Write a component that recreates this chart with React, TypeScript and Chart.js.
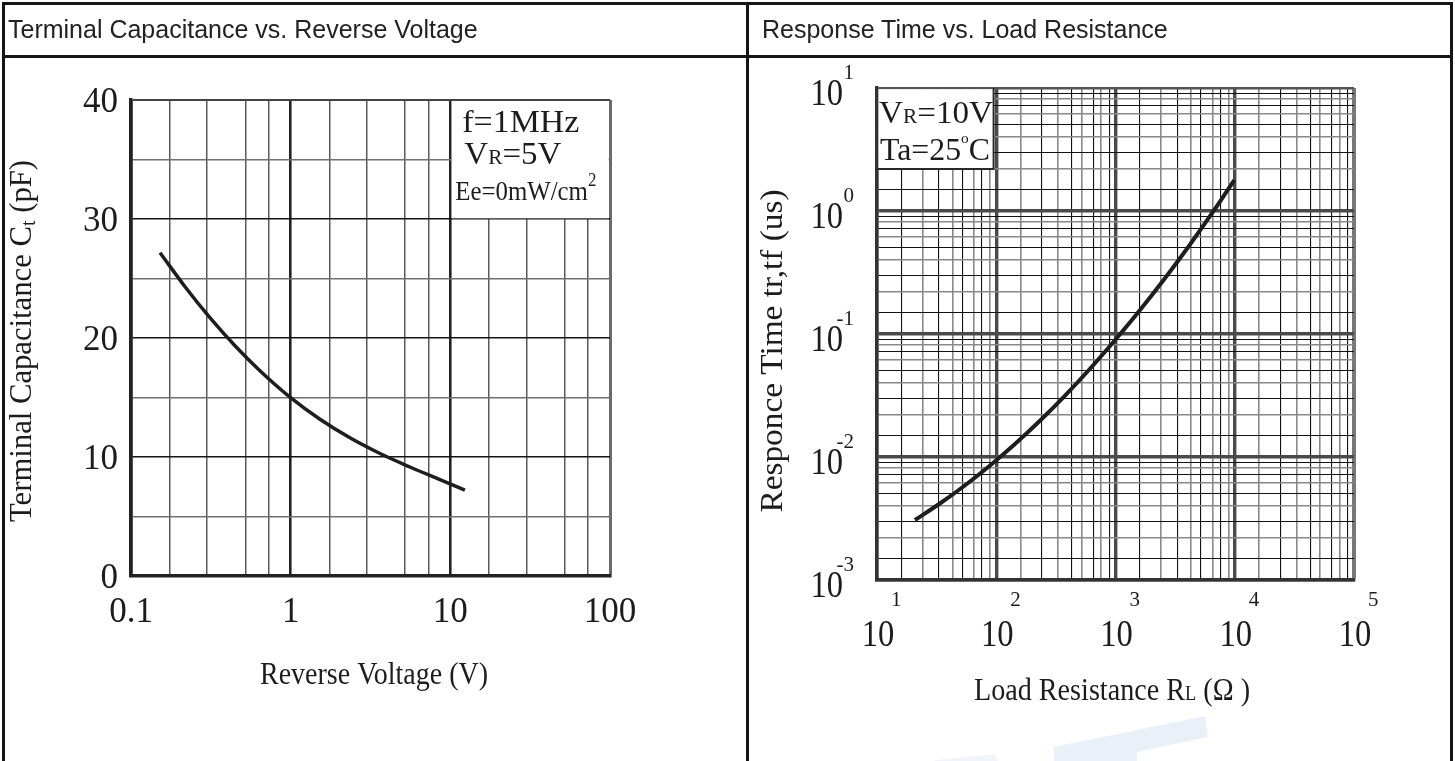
import React, { useEffect, useRef } from 'react';
import { Chart, registerables } from 'chart.js';

Chart.register(...registerables);

const PAGE_W = 1455;
const PAGE_H = 761;
const SERIF = '"Liberation Serif", "DejaVu Serif", serif';
const SANS = '"Liberation Sans", Arial, sans-serif';
const INK = '#1c1c1c';

// ---------- Left chart: Terminal Capacitance vs. Reverse Voltage ----------
const reverseVoltage = [0.152, 0.218, 0.312, 0.448, 0.642, 0.99, 1.526, 2.351, 3.625, 5.585, 8.607, 12.34];
const terminalCapacitance = [27.17, 24.31, 21.71, 19.35, 17.25, 15.03, 13.17, 11.61, 10.29, 9.16, 8.1, 7.22];
const voltageTickValues = [0.1, 1, 10, 100];
const voltageTickLabels = ['0.1', '1', '10', '100'];
const voltageGridSteps = [1, 1.75, 3, 5.2, 7.3];
const capacitanceTickValues = [0, 10, 20, 30, 40];
const capacitanceTickLabels = ['0', '10', '20', '30', '40'];
const capacitanceGridValues = [0, 5, 10, 15, 20, 25, 30, 35, 40];

// ---------- Right chart: Response Time vs. Load Resistance ----------
const loadResistance = [20.8, 33.67, 54.5, 88.2, 142.8, 231.2, 374.3, 606, 980.9, 1588, 2570, 4161, 6737, 9904];
const responseTime = [0.003074, 0.004188, 0.005866, 0.008489, 0.0127, 0.01963, 0.03131, 0.05168, 0.08813, 0.1545, 0.2801, 0.5242, 1.019, 1.786];
const resistanceExponents = [1, 2, 3, 4, 5];
const timeExponents = [-3, -2, -1, 0, 1];
const resistanceGridSteps = [1, 1.6, 2.4, 3.3, 4.3, 5.2, 6.5, 7.6, 8.9];
const timeGridSteps = [1, 1.5, 2.2, 3, 4, 5, 6.2, 7.2, 8.2, 9];

function logGrid(minExp: number, maxExp: number, steps: number[]) {
  const out: number[] = [];
  for (let e = minExp; e < maxExp; e++) for (const s of steps) out.push(s * Math.pow(10, e));
  out.push(Math.pow(10, maxExp));
  return out;
}
const isDecade = (v: number) => Math.abs(Math.log10(v) - Math.round(Math.log10(v))) < 1e-6;

type Run = { t: string; size: number; dy?: number };
type DrawOpts = { align?: 'left' | 'center' | 'right'; rotate?: number; width?: number; sx?: number; family?: string; color?: string };

function drawRuns(ctx: CanvasRenderingContext2D, runs: Run[], x: number, y: number, o: DrawOpts = {}) {
  ctx.save();
  ctx.translate(x, y);
  if (o.rotate) ctx.rotate(o.rotate);
  const family = o.family || SERIF;
  const widths = runs.map((r) => {
    ctx.font = `${r.size}px ${family}`;
    return ctx.measureText(r.t).width;
  });
  const total = widths.reduce((a, b) => a + b, 0);
  const sx = o.width ? o.width / total : o.sx || 1;
  ctx.scale(sx, 1);
  let cx = o.align === 'center' ? -total / 2 : o.align === 'right' ? -total : 0;
  ctx.fillStyle = o.color || INK;
  ctx.textBaseline = 'alphabetic';
  ctx.textAlign = 'left';
  runs.forEach((r, i) => {
    ctx.font = `${r.size}px ${family}`;
    ctx.fillText(r.t, cx, r.dy || 0);
    cx += widths[i];
  });
  ctx.restore();
}

const L_AREA = { left: 131, top: 100, right: 610, bottom: 576 };
const R_AREA = { left: 877, top: 88, right: 1354, bottom: 580 };

const leftPlugin = {
  id: 'leftDecor',
  beforeDatasetsDraw(chart: any) {
    const { ctx, scales } = chart;
    const x = scales.x, y = scales.y;
    const x0 = x.getPixelForValue(10), x1 = x.getPixelForValue(100);
    const y0 = y.getPixelForValue(40), y1 = y.getPixelForValue(30);
    ctx.save();
    ctx.fillStyle = '#ffffff';
    ctx.fillRect(x0 + 1.4, y0 + 1, x1 - x0 - 2.8, y1 - y0 - 1.7);
    ctx.restore();
  },
  afterDraw(chart: any) {
    const { ctx, scales } = chart;
    const x = scales.x, y = scales.y;
    capacitanceTickValues.forEach((v, i) => {
      drawRuns(ctx, [{ t: capacitanceTickLabels[i], size: 35 }], 118, y.getPixelForValue(v) + 12, { align: 'right' });
    });
    voltageTickValues.forEach((v, i) => {
      drawRuns(ctx, [{ t: voltageTickLabels[i], size: 35 }], x.getPixelForValue(v), 622, { align: 'center' });
    });
    // axis titles
    drawRuns(ctx, [{ t: 'Reverse Voltage (V)', size: 32 }], 374, 684, { align: 'center', width: 228 });
    drawRuns(
      ctx,
      [
        { t: 'Terminal Capacitance C', size: 32 },
        { t: 't', size: 21, dy: 4 },
        { t: ' (pF)', size: 32 },
      ],
      31,
      341,
      { align: 'center', rotate: -Math.PI / 2, width: 362 }
    );
    // annotation
    const bx = x.getPixelForValue(10);
    const by = y.getPixelForValue(40);
    drawRuns(ctx, [{ t: 'f=1MHz', size: 31 }], bx + 12, by + 32, { width: 117 });
    drawRuns(ctx, [{ t: 'V', size: 31 }, { t: 'R', size: 20 }, { t: '=5V', size: 31 }], bx + 14, by + 64, { width: 97 });
    drawRuns(ctx, [{ t: 'Ee=0mW/cm', size: 28 }, { t: '2', size: 19, dy: -14 }], bx + 5, by + 100, { width: 141 });
  },
};

const rightPlugin = {
  id: 'rightDecor',
  beforeDatasetsDraw(chart: any) {
    const { ctx, scales } = chart;
    const x = scales.x, y = scales.y;
    const x0 = x.getPixelForValue(10), x1 = x.getPixelForValue(95);
    const y0 = y.getPixelForValue(10), y1 = y.getPixelForValue(2.2);
    ctx.save();
    ctx.fillStyle = '#ffffff';
    ctx.fillRect(x0 + 1.5, y0 + 1.2, x1 - x0 - 1.5, y1 - y0 - 1.2);
    ctx.strokeStyle = '#2a2a2a';
    ctx.lineWidth = 2;
    ctx.beginPath();
    ctx.moveTo(x1, y0);
    ctx.lineTo(x1, y1);
    ctx.lineTo(x0, y1);
    ctx.stroke();
    ctx.restore();
  },
  afterDraw(chart: any) {
    const { ctx, scales } = chart;
    const x = scales.x, y = scales.y;
    timeExponents.forEach((e) => {
      const py = y.getPixelForValue(Math.pow(10, e));
      drawRuns(ctx, [{ t: '10', size: 37 }], 843, py + 17, { align: 'right', sx: 0.88 });
      drawRuns(ctx, [{ t: String(e), size: 21 }], 854, py - 9, { align: 'right' });
    });
    resistanceExponents.forEach((e) => {
      const px = x.getPixelForValue(Math.pow(10, e));
      drawRuns(ctx, [{ t: '10', size: 37 }], px + 1, 646, { align: 'center', sx: 0.88 });
      drawRuns(ctx, [{ t: String(e), size: 21 }], px + 14, 606, { align: 'left' });
    });
    drawRuns(
      ctx,
      [
        { t: 'Load Resistance R', size: 32 },
        { t: 'L', size: 21 },
        { t: ' (\u03A9 )', size: 32 },
      ],
      1112,
      700,
      { align: 'center', width: 276 }
    );
    drawRuns(ctx, [{ t: 'Responce Time tr,tf (us)', size: 32 }], 782, 351, {
      align: 'center',
      rotate: -Math.PI / 2,
      width: 323,
    });
    const bx = x.getPixelForValue(10);
    const by = y.getPixelForValue(10);
    drawRuns(ctx, [{ t: 'V', size: 31 }, { t: 'R', size: 20 }, { t: '=10V', size: 31 }], bx + 2, by + 35, { width: 114 });
    drawRuns(ctx, [{ t: 'Ta=25', size: 31 }, { t: 'o', size: 15, dy: -17 }, { t: 'C', size: 31 }], bx + 3, by + 72, { width: 110 });
  },
};

function leftConfig(): any {
  return {
    type: 'scatter',
    data: {
      datasets: [
        {
          data: reverseVoltage.map((v, i) => ({ x: v, y: terminalCapacitance[i] })),
          showLine: true,
          borderColor: '#1e1e1e',
          borderWidth: 3.5,
          pointRadius: 0,
          cubicInterpolationMode: 'monotone',
          fill: false,
        },
      ],
    },
    options: {
      animation: false,
      responsive: false,
      events: [],
      layout: {
        padding: { left: L_AREA.left, top: L_AREA.top, right: PAGE_W - L_AREA.right, bottom: PAGE_H - L_AREA.bottom },
      },
      plugins: { legend: { display: false }, tooltip: { enabled: false }, title: { display: false } },
      scales: {
        x: {
          type: 'logarithmic',
          min: 0.1,
          max: 100,
          afterBuildTicks: (s: any) => {
            s.ticks = logGrid(-1, 2, voltageGridSteps).map((v) => ({ value: v }));
          },
          ticks: { display: false },
          grid: {
            drawTicks: false,
            color: (c: any) => {
              const v = c.tick ? c.tick.value : 1;
              if (v >= 99) return '#6a6a6a';
              return isDecade(v) ? '#222' : '#5a5a5a';
            },
            lineWidth: (c: any) => {
              const v = c.tick ? c.tick.value : 1;
              if (v >= 99) return 3;
              return isDecade(v) ? 2.6 : 1.5;
            },
          },
          border: { display: true, color: '#222', width: 3.5 },
        },
        y: {
          type: 'linear',
          min: 0,
          max: 40,
          afterBuildTicks: (s: any) => {
            s.ticks = capacitanceGridValues.map((v) => ({ value: v }));
          },
          ticks: { display: false },
          grid: {
            drawTicks: false,
            color: (c: any) => {
              const v = c.tick ? c.tick.value : 0;
              if (v === 40) return '#444';
              return v % 10 === 0 ? '#151515' : '#707070';
            },
            lineWidth: (c: any) => {
              const v = c.tick ? c.tick.value : 0;
              if (v === 40) return 2;
              return v % 10 === 0 ? 1.4 : 1.6;
            },
          },
          border: { display: true, color: '#222', width: 3.5 },
        },
      },
    },
    plugins: [leftPlugin],
  };
}

function rightConfig(): any {
  return {
    type: 'scatter',
    data: {
      datasets: [
        {
          data: loadResistance.map((v, i) => ({ x: v, y: responseTime[i] })),
          showLine: true,
          borderColor: '#1e1e1e',
          borderWidth: 4,
          pointRadius: 0,
          cubicInterpolationMode: 'monotone',
          fill: false,
        },
      ],
    },
    options: {
      animation: false,
      responsive: false,
      events: [],
      layout: {
        padding: { left: R_AREA.left, top: R_AREA.top, right: PAGE_W - R_AREA.right, bottom: PAGE_H - R_AREA.bottom },
      },
      plugins: { legend: { display: false }, tooltip: { enabled: false }, title: { display: false } },
      scales: {
        x: {
          type: 'logarithmic',
          min: 10,
          max: 100000,
          afterBuildTicks: (s: any) => {
            s.ticks = logGrid(1, 5, resistanceGridSteps).map((v) => ({ value: v }));
          },
          ticks: { display: false },
          grid: {
            drawTicks: false,
            color: (c: any) => {
              const v = c.tick ? c.tick.value : 10;
              if (v >= 99999) return '#777';
              if (isDecade(v)) return '#4a4a4a';
              return c.index % 2 ? '#111' : '#888';
            },
            lineWidth: (c: any) => {
              const v = c.tick ? c.tick.value : 10;
              if (v >= 99999) return 4;
              if (isDecade(v)) return 3.4;
              return c.index % 2 ? 1.1 : 1.6;
            },
          },
          border: { display: true, color: '#333', width: 3.5 },
        },
        y: {
          type: 'logarithmic',
          min: 0.001,
          max: 10,
          afterBuildTicks: (s: any) => {
            s.ticks = logGrid(-3, 1, timeGridSteps).map((v) => ({ value: v }));
          },
          ticks: { display: false },
          grid: {
            drawTicks: false,
            color: (c: any) => {
              const v = c.tick ? c.tick.value : 1;
              if (v >= 9.99) return '#555';
              if (isDecade(v)) return '#4a4a4a';
              return c.index % 2 ? '#111' : '#888';
            },
            lineWidth: (c: any) => {
              const v = c.tick ? c.tick.value : 1;
              if (v >= 9.99) return 2.5;
              if (isDecade(v)) return 3.4;
              return c.index % 2 ? 1.1 : 1.6;
            },
          },
          border: { display: true, color: '#333', width: 3.5 },
        },
      },
    },
    plugins: [rightPlugin],
  };
}

const line = (style: React.CSSProperties): React.CSSProperties => ({ position: 'absolute', background: '#151515', ...style });

export default function App() {
  const leftRef = useRef<HTMLCanvasElement>(null);
  const rightRef = useRef<HTMLCanvasElement>(null);

  useEffect(() => {
    const c1 = new Chart(leftRef.current as HTMLCanvasElement, leftConfig());
    const c2 = new Chart(rightRef.current as HTMLCanvasElement, rightConfig());
    return () => {
      c1.destroy();
      c2.destroy();
    };
  }, []);

  const canvasStyle: React.CSSProperties = { position: 'absolute', left: 0, top: 0, width: PAGE_W, height: PAGE_H };
  const titleStyle: React.CSSProperties = {
    position: 'absolute',
    top: 17,
    fontFamily: SANS,
    fontSize: 25,
    lineHeight: '25px',
    color: '#222',
    whiteSpace: 'nowrap',
  };

  return (
    <div style={{ position: 'absolute', left: 0, top: 0, width: PAGE_W, height: PAGE_H, background: '#fff', overflow: 'hidden' }}>
      <svg width={PAGE_W} height={PAGE_H} style={{ position: 'absolute', left: 0, top: 0 }}>
        <polygon points="1054,747 1205,716 1208,737 1137,752 1137,761 1054,761" fill="#e9f0f8" />
        <polygon points="935,760 995,754 998,761 935,761" fill="#f1f5fa" />
      </svg>
      <canvas ref={leftRef} width={PAGE_W} height={PAGE_H} style={canvasStyle} />
      <canvas ref={rightRef} width={PAGE_W} height={PAGE_H} style={canvasStyle} />
      <div style={line({ left: 2, top: 2, width: 1451, height: 2.5 })} />
      <div style={line({ left: 2, top: 55, width: 1451, height: 2.5 })} />
      <div style={line({ left: 2, top: 2, width: 2.5, height: 759 })} />
      <div style={line({ left: 746, top: 2, width: 2.5, height: 759 })} />
      <div style={line({ left: 1450, top: 2, width: 2.5, height: 759 })} />
      <div style={{ ...titleStyle, left: 8 }}>Terminal Capacitance vs. Reverse Voltage</div>
      <div style={{ ...titleStyle, left: 762 }}>Response Time vs. Load Resistance</div>
    </div>
  );
}
